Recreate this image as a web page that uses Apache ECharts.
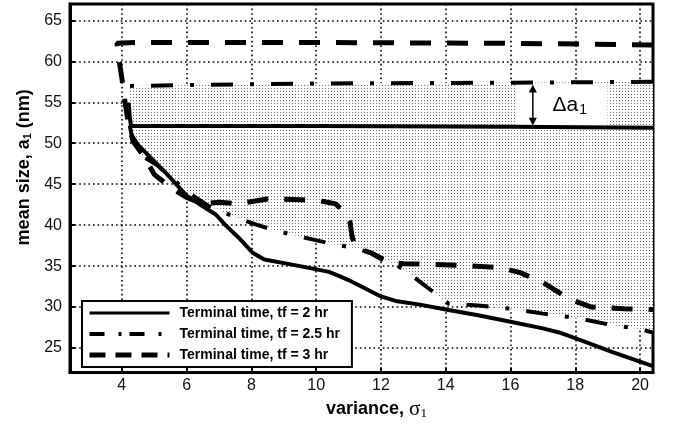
<!DOCTYPE html>
<html><head><meta charset="utf-8">
<script src="https://cdn.jsdelivr.net/npm/echarts@6/dist/echarts.min.js"></script>
<style>html,body{margin:0;padding:0;background:#fff}#c{width:678px;height:425px}</style>
</head><body><div id="c"></div>
<script>
const xTicks = [4, 6, 8, 10, 12, 14, 16, 18, 20];
const yTicks = [25, 30, 35, 40, 45, 50, 55, 60, 65];
const names = ['Terminal time, tf = 2 hr', 'Terminal time, tf = 2.5 hr', 'Terminal time, tf = 3 hr'];

// each curve: upper branch (right to left) then lower branch (left to right)
const tf2 = [[20.4,51.9],[16,52.0],[10,52.1],[6,52.1],[4.25,52.1],
  [4.3,51.0],[4.5,49.8],[4.8,48.6],[5.4,46.2],[6.0,43.6],[6.5,42.3],[6.9,41.3],[7.2,40.0],[7.6,38.5],
  [8.05,36.6],[8.4,35.8],[9.5,35.0],[10.4,34.3],[10.7,33.8],[11.0,33.3],[11.5,32.3],[12.0,31.3],
  [12.5,30.7],[13.2,30.3],[14,29.7],[15,29.0],[16,28.2],[17,27.4],[17.5,26.9],[18.35,25.7],
  [19.15,24.5],[20.4,22.8]];
const tf25 = [[20.4,57.5],[16,57.4],[10,57.3],[4.25,57.0],
  [4.2,55.5],[4.25,53.0],[4.35,50.5],[4.6,48.5],[5.1,47.3],[5.6,45.5],[6.2,43.6],[6.7,42.3],
  [7.55,40.9],[8.2,40.0],[8.7,39.4],[9.3,38.8],[9.95,38.2],[10.5,37.7],[11.2,37.2],[11.7,36.6],
  [12.2,35.7],[12.7,34.6],[13.3,32.8],[13.7,31.6],[14.1,30.4],[15,30.2],[16,29.8],[17,29.2],
  [18,28.7],[19,27.9],[20,27.3],[20.4,26.9]];
const tf3 = [[20.4,62.0],[16,62.2],[10,62.3],[4.4,62.3],[3.85,62.2],
  [3.9,60.5],[4.0,58.0],[4.1,55.0],[4.2,52.5],[4.35,50.2],[4.7,48.3],[5.0,46.2],[5.5,44.6],
  [6.0,43.4],[6.5,42.6],[7.0,42.8],[7.6,42.6],[8.5,43.2],[9.5,43.1],[10.1,43.0],[10.6,42.6],
  [10.9,41.5],[11.05,40.3],[11.1,38.8],[11.2,37.3],[11.7,36.6],[12.2,35.5],[12.7,35.3],
  [14.5,35.1],[15.7,34.8],[16.3,34.2],[17,33.0],[17.8,31.0],[18.5,30.0],[19.5,29.8],[20.4,29.7]];

const pc = document.createElement('canvas'); pc.width = 3; pc.height = 3;
const g = pc.getContext('2d');
g.fillStyle = '#fff'; g.fillRect(0, 0, 3, 3);
g.fillStyle = '#6a6a6a'; g.fillRect(1, 1, 1, 1);

const FONT = 'Liberation Sans, Arial, sans-serif';
const chart = echarts.init(document.getElementById('c'), null, {renderer: 'canvas'});
chart.setOption({
  backgroundColor: '#fff',
  animation: false,
  grid: {left: 70, right: 25, top: 4, bottom: 43, show: true, borderColor: '#000', borderWidth: 3, backgroundColor: 'transparent'},
  xAxis: {
    type: 'value', min: 2.4, max: 20.4, minInterval: 2, maxInterval: 2,
    name: '{b|variance, }{s|σ}{u|1}', nameLocation: 'middle', nameGap: 14,
    nameTextStyle: {padding: [0, 0, 0, 30], rich: {
      b: {fontFamily: FONT, fontWeight: 'bold', fontSize: 18, color: '#000'},
      s: {fontFamily: 'Liberation Serif, serif', fontSize: 21, color: '#000'},
      u: {fontFamily: 'Liberation Serif, serif', fontSize: 13, color: '#000', padding: [9, 0, 0, 0]}}},
    axisLine: {lineStyle: {color: '#000', width: 3}},
    axisTick: {inside: true, length: 5, lineStyle: {color: '#000', width: 2}, customValues: xTicks},
    axisLabel: {customValues: xTicks, fontFamily: FONT, fontSize: 16, color: '#111', margin: 5},
    splitLine: {show: true, lineStyle: {color: '#000', width: 1.6, type: [1.6, 3]}}
  },
  yAxis: {
    type: 'value', min: 22, max: 67, minInterval: 5, maxInterval: 5,
    name: '{b|mean size, a}{u|1}{b| (nm)}', nameLocation: 'middle', nameGap: 37, nameRotate: 90,
    nameTextStyle: {padding: [0, 0, 0, 42], rich: {
      b: {fontFamily: FONT, fontWeight: 'bold', fontSize: 18, color: '#000'},
      u: {fontFamily: FONT, fontWeight: 'bold', fontSize: 11, color: '#000', padding: [7, 0, 0, 0]}}},
    axisLine: {lineStyle: {color: '#000', width: 3}},
    axisTick: {inside: true, length: 5, lineStyle: {color: '#000', width: 2}, customValues: yTicks},
    axisLabel: {customValues: yTicks, fontFamily: FONT, fontSize: 16, color: '#111', margin: 8},
    splitLine: {show: true, lineStyle: {color: '#000', width: 1.6, type: [1.6, 3]}}
  },
  legend: {
    data: [
      {name: names[0], lineStyle: {width: 3, type: 'solid'}},
      {name: names[1], lineStyle: {width: 4, type: [15, 14, 3, 8]}},
      {name: names[2], lineStyle: {width: 5, type: [16, 10]}}
    ],
    orient: 'vertical', left: 82, top: 301, itemWidth: 80, itemHeight: 14, itemGap: 7,
    padding: [5, 12, 5, 5], borderColor: '#000', borderWidth: 2, backgroundColor: '#fff', borderRadius: 0,
    itemStyle: {opacity: 0, borderWidth: 0},
    textStyle: {fontFamily: FONT, fontWeight: 'bold', fontSize: 14, color: '#000', padding: [0, 0, 0, 5]},
    selectedMode: false
  },
  series: [
    {
      type: 'custom', name: 'region', z: 1, silent: true, clip: true,
      data: [tf25[0]],
      renderItem: function (params, api) {
        if (params.dataIndex !== 0) return null;
        const pts = tf25.map(p => api.coord(p));
        const a = api.coord([16.2, 57.3]), b = api.coord([19.0, 52.0]);
        const t = api.coord([16.69, 57.3]), bt = api.coord([16.69, 52.0]);
        const lab = api.coord([17.3, 54.7]);
        return {type: 'group', children: [
          {type: 'polygon', shape: {points: pts}, style: {fill: {image: pc, repeat: 'repeat'}}},
          {type: 'rect', shape: {x: a[0], y: a[1], width: b[0] - a[0], height: b[1] - a[1]}, style: {fill: '#fff'}},
          {type: 'line', shape: {x1: t[0], y1: t[1] + 6, x2: bt[0], y2: bt[1] - 6}, style: {stroke: '#000', lineWidth: 1.5}},
          {type: 'polygon', shape: {points: [[t[0], t[1] + 1], [t[0] - 4, t[1] + 9], [t[0] + 4, t[1] + 9]]}, style: {fill: '#000'}},
          {type: 'polygon', shape: {points: [[bt[0], bt[1] - 1], [bt[0] - 4, bt[1] - 9], [bt[0] + 4, bt[1] - 9]]}, style: {fill: '#000'}},
          {type: 'text', x: lab[0], y: lab[1], style: {text: '{d|Δa}{s|1}', verticalAlign: 'middle', align: 'left',
            rich: {d: {fontFamily: FONT, fontSize: 21, color: '#000'}, s: {fontFamily: FONT, fontSize: 14, color: '#000', padding: [10, 0, 0, 1]}}}}
        ]};
      }
    },
    {name: names[0], type: 'line', data: tf2, symbol: 'none', z: 3, smooth: false,
      lineStyle: {color: '#000', width: 4, type: 'solid'}, itemStyle: {color: '#000'}},
    {name: names[1], type: 'line', data: tf25, symbol: 'none', z: 3,
      lineStyle: {color: '#000', width: 4, type: [22, 17, 4, 17]}, itemStyle: {color: '#000'}},
    {name: names[2], type: 'line', data: tf3, symbol: 'none', z: 3,
      lineStyle: {color: '#000', width: 5, type: [21, 16]}, itemStyle: {color: '#000'}}
  ]
});
</script></body></html>
